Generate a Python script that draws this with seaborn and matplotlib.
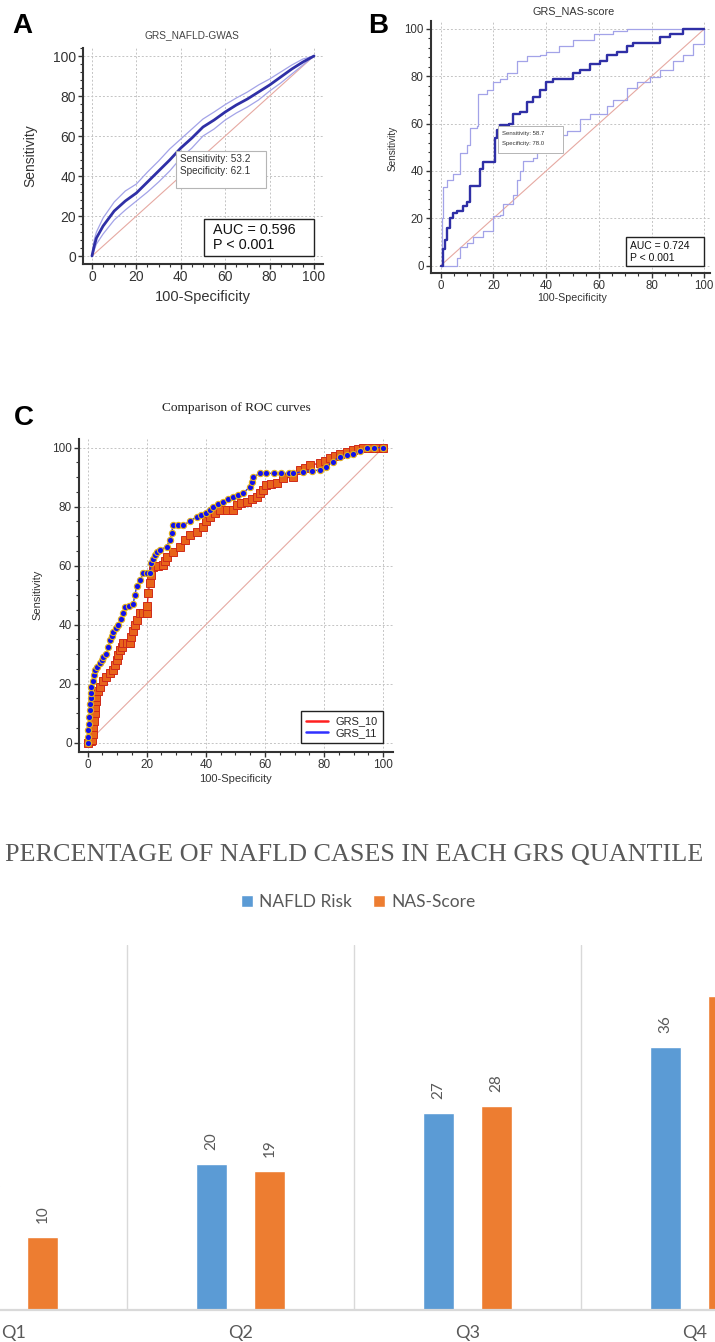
import numpy as np
import pandas as pd
import matplotlib
matplotlib.use("Agg")
import matplotlib.pyplot as plt
import seaborn as sns
from matplotlib.patches import Rectangle
from matplotlib.lines import Line2D
from matplotlib.ticker import MultipleLocator

# ---------------- data ----------------
# Panel A: GRS_NAFLD-GWAS ROC (100-specificity, sensitivity) with 95% CI band
a_fpr = [0, 1, 2, 5, 10, 15, 20, 25, 30, 35, 40, 45, 50, 55, 60, 65, 70, 75, 80, 85, 90, 95, 100]
a_tpr = [0, 5, 9, 15, 22.5, 27.5, 31.5, 37, 42.5, 48, 54, 59, 64.5, 68, 72, 75.5, 78.5, 82, 85.5, 89.5, 93.5, 97, 100]
a_hi = [0, 8, 12, 19, 27, 32.5, 36, 42, 47.5, 53.5, 58.5, 63.5, 68.5, 72, 75.7, 79, 82, 85.5, 88.5, 92, 95.5, 98.5, 100]
a_lo = [0, 3, 6, 11, 18, 23, 27.5, 32, 37, 42.5, 49, 54, 60, 63.5, 68, 71.5, 74.5, 78, 82.5, 86.5, 91, 95.5, 100]

# Panel B: GRS_NAS-score ROC with 95% CI
b_fpr = [0, 1, 1, 1.6, 2.5, 3.5, 4.8, 6, 8.6, 9.9, 11, 14.3, 15, 16, 20, 20.6, 21.2, 22.5, 26, 27.5,
         30, 32.6, 35, 37.7, 40, 42.7, 47.8, 50, 52.8, 56.6, 60.4, 63, 66.8, 70.5, 73, 79.4, 83, 87, 92, 100]
b_tpr = [0, 1, 7, 11, 16, 20, 22, 23, 25, 27, 33.5, 33.5, 41, 43.6, 43.6, 53.7, 57.5, 59.4, 60, 64,
         65, 69, 71.4, 74, 77.7, 79, 79, 81.5, 82.8, 85.3, 86.6, 89, 90.4, 93, 94, 94, 96.7, 98, 100, 100]
bu_fpr = [0, 0.5, 1, 2.3, 4.8, 7.3, 10, 11, 13.7, 14.3, 17.4, 20, 22.5, 25, 28.8, 32.6, 37.7, 40, 45, 50,
          58, 65.5, 70.5, 100]
bu_tpr = [0, 20, 33, 36, 38.5, 47.4, 51, 58, 59, 72.7, 74, 77.7, 79, 81.5, 86.6, 88.5, 89, 90.4, 93, 95.4,
          98, 99.2, 100, 100]
bl_fpr = [0, 5.4, 6, 7.3, 9.9, 12.4, 16, 20, 22.5, 23.8, 27.5, 28.8, 30, 31.4, 35, 36.4, 40, 44, 47.8, 52.8,
          56.6, 63, 65.5, 70.5, 74.3, 79.4, 83, 88, 92, 95.8, 100, 100]
bl_tpr = [0, 0, 3, 8, 9.5, 12, 14.5, 21, 21.5, 26, 30, 36, 40, 44, 45.5, 48, 48.7, 55, 57, 62,
          64, 67.6, 70, 75, 77.7, 79.6, 82.8, 86.6, 89, 93.5, 94, 100]

# Panel C: comparison of ROC curves
g10_fpr = [0, 1, 1.4, 1.9, 1.9, 2.2, 2.5, 2.5, 3, 3, 3.6, 4.2, 5.3, 6.4, 7.6, 8.7, 9.2, 9.8, 10.4, 10.9,
           11.5, 12, 13.2, 14.3, 14.8, 15.4, 16, 16.6, 17.7, 18.8, 20, 20.2, 20.5, 21, 21.6, 22.2, 23.9, 25.6,
           26.2, 26.7, 29, 31.2, 32.9, 34.6, 36.9, 39.1, 40.2, 41.4, 43, 44.8, 47, 49.3, 50.4, 52, 53.8,
           55.5, 57.2, 58.3, 59.4, 60.5, 62.2, 63.9, 66.2, 69.6, 71.8, 73.5, 75.2, 78.6, 80.3, 82, 83.7,
           85.3, 87.6, 89.9, 91.5, 93.2, 96, 98, 100]
g10_tpr = [0, 0.5, 1, 3, 5.4, 7.5, 10, 12, 14, 15.6, 17.5, 19, 21, 22.3, 23.5, 24.6, 26.3, 28, 29.7, 31.4,
           32.6, 33.7, 33.7, 33.7, 35.9, 38, 39.8, 41.6, 43.8, 43.8, 43.8, 46.5, 50.6, 54, 57, 59.7, 60, 60.2,
           61.6, 63, 64.7, 66.4, 68.7, 70.4, 71.5, 73.2, 75, 76.6, 77.8, 78.9, 78.9, 78.9, 80.6, 81.2, 81.7,
           82.5, 83.4, 84.5, 85.6, 87.3, 87.6, 87.9, 89.6, 90.2, 92.4, 93.2, 94.1, 94.7, 95.5, 96.4, 97.2,
           98, 98.6, 99.2, 99.6, 100, 100, 100, 100]
g11_fpr = [0, 0.2, 0.3, 0.5, 0.6, 0.8, 0.9, 1, 1, 1.3, 1.7, 2.1, 2.5, 3.3, 4.2, 4.8, 5.3, 6.4, 7, 7.6,
           8.2, 8.7, 9.6, 10.4, 11.2, 12, 12.6, 14, 15.4, 16, 16.6, 17.7, 18.8, 20, 21, 21.6, 22.2, 22.8,
           23.6, 24.5, 26.7, 27.8, 28.4, 29, 30.7, 32.4, 34.6, 36.9, 38.5, 40.2, 41.4, 42.5, 44.2, 45.9,
           47.6, 49.3, 51, 52.6, 54.9, 55.5, 56, 58.3, 60.5, 63, 65.5, 68, 69.6, 73, 75.8, 78.6, 80.8, 83,
           85.3, 87.6, 89.9, 92.2, 94.4, 97, 100]
g11_tpr = [0, 2, 4.3, 6.5, 8.8, 11, 13, 15, 16.7, 18.8, 21, 22.8, 24.6, 25.8, 27, 28, 29, 30, 32.4, 34.8,
           36.2, 37.6, 38.8, 40, 42, 43.8, 46, 46.5, 47, 50, 53, 55, 57.4, 57.4, 57.4, 60.8, 62.2, 63.6,
           64.5, 65.3, 66.4, 68.7, 71.2, 73.8, 73.8, 73.8, 75, 76.6, 77.2, 77.7, 78.8, 80, 80.8, 81.7,
           82.5, 83.4, 83.9, 84.5, 86.8, 88.4, 90, 91.3, 91.3, 91.3, 91.3, 91.3, 91.3, 91.9, 92.2, 92.4, 93.6, 95.3,
           97, 97.5, 98, 98.9, 99.8, 100, 100]
diag = [0, 100]

# Panel D: percentage of NAFLD cases in each GRS quantile
quantiles = ["Q1", "Q2", "Q3", "Q4"]
nafld_risk = [17, 20, 27, 36]
nas_score = [10, 19, 28, 43]
series_names = ["NAFLD Risk", "NAS-Score"]

# ---------------- figure ----------------
sns.set_theme(style="ticks")
plt.rcParams['font.family'] = ['Liberation Sans', 'DejaVu Sans']

W, H = 715, 1342
fig = plt.figure(figsize=(W / 100, H / 100), dpi=100)
fig.patch.set_facecolor("white")


def fx(x):
    return x / W


def fy(y):
    return 1 - y / H


def axes_px(left, top, right, bottom):
    return fig.add_axes([left / W, 1 - bottom / H, (right - left) / W, (bottom - top) / H])


def style_roc(ax, xlim, ylim, fs, xminor, yminor):
    ax.set_xlim(*xlim)
    ax.set_ylim(*ylim)
    ax.set_xticks(range(0, 101, 20))
    ax.set_yticks(range(0, 101, 20))
    ax.xaxis.set_minor_locator(MultipleLocator(xminor))
    ax.yaxis.set_minor_locator(MultipleLocator(yminor))
    for s in ["top", "right"]:
        ax.spines[s].set_visible(False)
    for s in ["left", "bottom"]:
        ax.spines[s].set_color("#333333")
        ax.spines[s].set_linewidth(1.5)
    ax.tick_params(which="major", direction="out", length=3.5, width=1, color="#333333",
                   labelsize=fs, labelcolor="#333333", pad=1.5, left=True, bottom=True)
    ax.tick_params(which="minor", direction="out", length=2.2, width=0.8, color="#333333",
                   left=True, bottom=True)
    ax.grid(True, which="major", color="#c4c4c4", linestyle=(0, (2, 2)), linewidth=0.7)
    ax.set_axisbelow(True)
    ax.set_facecolor("white")


def place_labels(ax, xl, yl, xfs, yfs, xpos, ypos):
    ax.set_xlabel(xl, fontsize=xfs, color="#333333")
    ax.set_ylabel(yl, fontsize=yfs, color="#333333")
    ax.xaxis.set_label_coords(fx(xpos[0]), fy(xpos[1]), transform=fig.transFigure)
    ax.yaxis.set_label_coords(fx(ypos[0]), fy(ypos[1]), transform=fig.transFigure)
    ax.xaxis.label.set_va("center")
    ax.yaxis.label.set_va("center")


diag_col = "#e6a9a2"
ci_col = "#a3a3e8"
main_col = "#2f2fa6"

# ---- Panel A ----
axA = axes_px(83, 48, 322.9, 263.5)
style_roc(axA, (-4.05, 104), (-3.75, 104), 10, 5, 4)
sns.lineplot(x=diag, y=diag, ax=axA, color=diag_col, lw=0.8)
sns.lineplot(x=a_fpr, y=a_hi, ax=axA, color=ci_col, lw=0.9, estimator=None, sort=False)
sns.lineplot(x=a_fpr, y=a_lo, ax=axA, color=ci_col, lw=0.9, estimator=None, sort=False)
sns.lineplot(x=a_fpr, y=a_tpr, ax=axA, color=main_col, lw=2.0, estimator=None, sort=False)
axA.add_patch(Rectangle((37.8, 33.8), 40.6, 18.9, facecolor="white", edgecolor="#b5b5b5", lw=0.8, zorder=5))
axA.text(39.6, 48.3, "Sensitivity: 53.2", fontsize=7.2, color="#333333", va="center", zorder=6)
axA.text(39.6, 42.5, "Specificity: 62.1", fontsize=7.2, color="#333333", va="center", zorder=6)
axA.add_patch(Rectangle((50.4, 0), 49.6, 18.6, facecolor="white", edgecolor="#222222", lw=1.0, zorder=5))
axA.text(54.6, 13.2, "AUC = 0.596", fontsize=10.4, color="#111111", va="center", zorder=6)
axA.text(54.6, 5.6, "P < 0.001", fontsize=10.4, color="#111111", va="center", zorder=6)
place_labels(axA, "100-Specificity", "Sensitivity", 10.5, 10, (203, 297), (30, 156))
fig.text(fx(192), fy(35), "GRS_NAFLD-GWAS", fontsize=7.3, color="#444444", ha="center", va="center")
fig.text(fx(12), fy(33), "A", fontsize=20, fontweight="bold", color="black", ha="left", va="baseline")

# ---- Panel B ----
axB = axes_px(430.7, 21.4, 709.6, 273.1)
style_roc(axB, (-3.8, 102), (-3.2, 103.2), 8.3, 5, 4)
sns.lineplot(x=diag, y=diag, ax=axB, color=diag_col, lw=0.8)
sns.lineplot(x=bu_fpr, y=bu_tpr, ax=axB, color=ci_col, lw=0.9, estimator=None, sort=False, drawstyle="steps-post")
sns.lineplot(x=bl_fpr, y=bl_tpr, ax=axB, color=ci_col, lw=0.9, estimator=None, sort=False, drawstyle="steps-post")
sns.lineplot(x=b_fpr, y=b_tpr, ax=axB, color=main_col, lw=1.7, estimator=None, sort=False, drawstyle="steps-post")
axB.add_patch(Rectangle((21.9, 47.4), 24.6, 11.4, facecolor="white", edgecolor="#b5b5b5", lw=0.7, zorder=5))
axB.text(23.4, 56.0, "Sensitivity: 58.7", fontsize=4.3, color="#333333", va="center", zorder=6)
axB.text(23.4, 51.5, "Specificity: 78.0", fontsize=4.3, color="#333333", va="center", zorder=6)
axB.add_patch(Rectangle((70.2, 0), 29.8, 12.0, facecolor="white", edgecolor="#222222", lw=1.0, zorder=5))
axB.text(71.8, 8.3, "AUC = 0.724", fontsize=7.5, color="#111111", va="center", zorder=6)
axB.text(71.8, 3.3, "P < 0.001", fontsize=7.5, color="#111111", va="center", zorder=6)
place_labels(axB, "100-Specificity", "Sensitivity", 7.7, 7.2, (572, 298), (393, 148))
fig.text(fx(574), fy(11), "GRS_NAS-score", fontsize=7.8, color="#333333", ha="center", va="center")
fig.text(fx(368), fy(33), "B", fontsize=20, fontweight="bold", color="black", ha="left", va="baseline")

# ---- Panel C ----
axC = axes_px(79, 439.1, 393, 751.6)
style_roc(axC, (-2.9, 103.3), (-3.0, 102.9), 8.5, 5, 5)
sns.lineplot(x=diag, y=diag, ax=axC, color=diag_col, lw=0.8)
sns.lineplot(x=g10_fpr, y=g10_tpr, ax=axC, color="#e02020", lw=1.0, estimator=None, sort=False,
             marker="s", markersize=5.2, markerfacecolor="#e8641a", markeredgecolor="#cf2a1a",
             markeredgewidth=0.7)
sns.lineplot(x=g11_fpr, y=g11_tpr, ax=axC, color="#2a2ae0", lw=1.0, estimator=None, sort=False,
             marker="o", markersize=4.5, markerfacecolor="#1010ee", markeredgecolor="#e0b020",
             markeredgewidth=0.8)
handles = [Line2D([], [], color="#ff2020", lw=1.8), Line2D([], [], color="#3030ff", lw=1.8)]
leg = axC.legend(handles, ["GRS_10", "GRS_11"], loc="lower right",
                 bbox_to_anchor=(fx(383), fy(743)), bbox_transform=fig.transFigure,
                 borderaxespad=0, fancybox=False, framealpha=1, edgecolor="#222222",
                 fontsize=7.9, handlelength=2.0, handletextpad=0.7, borderpad=0.45, labelspacing=0.15)
leg.get_frame().set_linewidth(1.0)
place_labels(axC, "100-Specificity", "Sensitivity", 8, 8, (235, 779), (37, 595))
fig.text(fx(236), fy(408), "Comparison of ROC curves", fontsize=9.6, color="#222222",
         ha="center", va="center", family=["Liberation Serif", "DejaVu Serif"])
fig.text(fx(14), fy(425), "C", fontsize=20, fontweight="bold", color="black", ha="left", va="baseline")

# ---- Panel D: bar chart (cropped like the reference) ----
blue, orange = "#5b9bd5", "#ed7d31"
df = pd.DataFrame({
    "Quantile": quantiles * 2,
    "Series": [series_names[0]] * len(quantiles) + [series_names[1]] * len(quantiles),
    "Value": nafld_risk + nas_score,
})
axD = fig.add_axes([-100 / W, fy(1310), 908 / W, 365 / H])
sns.barplot(data=df, x="Quantile", y="Value", hue="Series", hue_order=series_names,
            palette=[blue, orange], width=0.516, gap=0.47, saturation=1, errorbar=None, ax=axD)
axD.set_xlim(-0.5, 3.5)
axD.set_ylim(0, 50)
axD.set_xlabel("")
axD.set_ylabel("")
axD.set_yticks([])
for s in ["top", "right", "left"]:
    axD.spines[s].set_visible(False)
axD.spines["bottom"].set_color("#d9d9d9")
axD.spines["bottom"].set_linewidth(1.6)
axD.set_xticks([0.5, 1.5, 2.5], minor=True)
axD.grid(False)
axD.grid(True, which="minor", axis="x", color="#d9d9d9", lw=1.0)
axD.set_axisbelow(True)
axD.tick_params(axis="x", which="both", length=0, pad=11, labelsize=13, labelcolor="#595959")
for lab in axD.get_xticklabels():
    lab.set_family(["Lato", "DejaVu Sans"])

# value labels only for bars whose centre falls inside the (cropped) picture
for cont in axD.containers:
    labels = []
    for patch in cont.patches:
        cx = patch.get_x() + patch.get_width() / 2
        px = axD.transData.transform((cx, 0))[0]
        labels.append("%g" % patch.get_height() if 0 <= px <= W else "")
    axD.bar_label(cont, labels=labels, padding=10, rotation=90, color="#595959", fontsize=11,
                  family=["Lato", "DejaVu Sans"])

h, l = axD.get_legend_handles_labels()
if axD.legend_ is not None:
    axD.legend_.remove()
fig.legend(h, l, loc="center", bbox_to_anchor=(fx(358), fy(902)), ncol=2, frameon=False,
           handlelength=0.7, handleheight=0.7, handletextpad=0.35, columnspacing=1.2,
           prop={"family": ["Lato", "DejaVu Sans"], "size": 12.5}, labelcolor="#595959")
fig.text(fx(354), fy(855), "PERCENTAGE OF NAFLD CASES IN EACH GRS QUANTILE", ha="center", va="center",
         family=["Liberation Serif", "DejaVu Serif"], fontsize=18.8, color="#595959")

fig.savefig("out.png", dpi=100, facecolor="white")
